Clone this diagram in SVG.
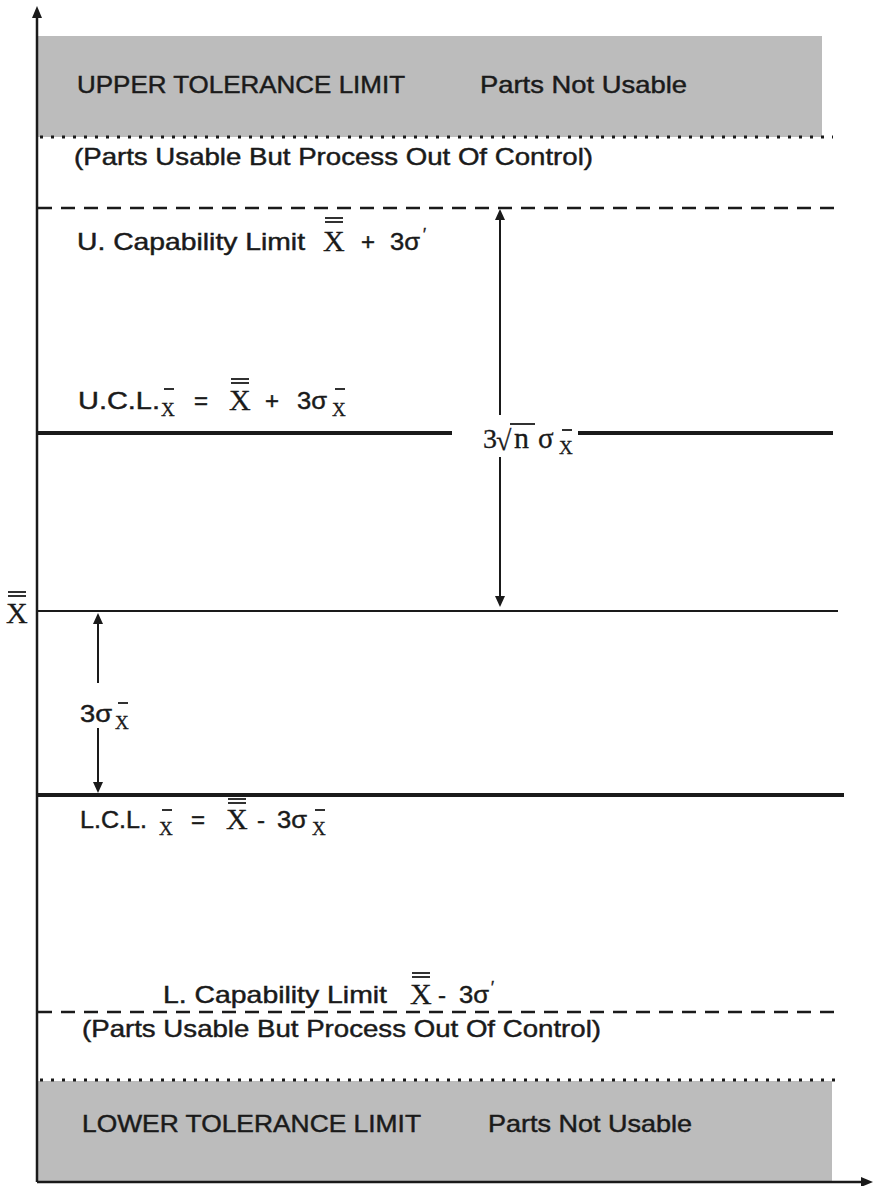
<svg xmlns="http://www.w3.org/2000/svg" width="875" height="1186" viewBox="0 0 875 1186">
<style>
.t{font-family:"Liberation Sans",Arial,sans-serif;font-size:24px;fill:#1a1a1a;stroke:#1a1a1a;stroke-width:0.45}
.s{font-family:"Liberation Serif","Times New Roman",serif;font-size:30px;fill:#1a1a1a;stroke:#1a1a1a;stroke-width:0.3}
.sub{font-family:"Liberation Serif","Times New Roman",serif;font-size:19px;fill:#1a1a1a;stroke:#1a1a1a;stroke-width:0.3}
.ln{stroke:#1a1a1a;fill:none}
.bar{stroke:#1a1a1a;stroke-width:1.8}
.band{fill:#bcbcbc}
.dot{stroke:#1a1a1a;stroke-width:3;stroke-dasharray:3 8;fill:none}
.dash{stroke:#1a1a1a;stroke-width:2.6;stroke-dasharray:14 9;fill:none}
.ah{fill:#1a1a1a}
</style>
<rect width="875" height="1186" fill="#ffffff"/>
<g id="bands">
<rect class="band" x="38" y="36" width="784" height="101"/>
<rect class="band" x="38" y="1081" width="794" height="100"/>
</g>
<g id="axes">
<line class="ln" x1="37" y1="1182" x2="37" y2="16" stroke-width="2.5"/>
<polygon class="ah" points="37,6 32,18 42,18"/>
<line class="ln" x1="37" y1="1182" x2="862" y2="1182" stroke-width="2.5"/>
<polygon class="ah" points="873,1182 861,1177 861,1187"/>
</g>
<g id="limit-lines">
<line class="dot" x1="40" y1="137" x2="833" y2="137"/>
<line class="dash" x1="38" y1="208" x2="835" y2="208"/>
<line class="ln" x1="37" y1="433" x2="452" y2="433" stroke-width="4"/>
<line class="ln" x1="578" y1="433" x2="833" y2="433" stroke-width="4"/>
<line class="ln" x1="37" y1="611" x2="838" y2="611" stroke-width="2"/>
<line class="ln" x1="37" y1="795" x2="844" y2="795" stroke-width="4"/>
<line class="dash" x1="38" y1="1012" x2="838" y2="1012"/>
<line class="dot" x1="40" y1="1080" x2="835" y2="1080"/>
</g>
<g id="connectors">
<line class="ln" x1="500" y1="218" x2="500" y2="415" stroke-width="2"/>
<line class="ln" x1="500" y1="457" x2="500" y2="598" stroke-width="2"/>
<polygon class="ah" points="500,209 495,220 505,220"/>
<polygon class="ah" points="500,607 495,596 505,596"/>
<line class="ln" x1="98" y1="622" x2="98" y2="683" stroke-width="2"/>
<line class="ln" x1="98" y1="728" x2="98" y2="784" stroke-width="2"/>
<polygon class="ah" points="98,613 93,624 103,624"/>
<polygon class="ah" points="98,793 93,782 103,782"/>
</g>
<g id="upper-tolerance">
<text class="t" x="77" y="93" textLength="328" lengthAdjust="spacingAndGlyphs">UPPER TOLERANCE LIMIT</text>
<text class="t" x="480" y="93" textLength="207" lengthAdjust="spacingAndGlyphs">Parts Not Usable</text>
</g>
<g id="upper-out-of-control">
<text class="t" x="74" y="165" textLength="519" lengthAdjust="spacingAndGlyphs">(Parts Usable But Process Out Of Control)</text>
</g>
<g id="upper-capability">
<text class="t" x="77" y="250" textLength="228" lengthAdjust="spacingAndGlyphs">U. Capability Limit</text>
<text class="s" x="323" y="251">X</text>
<line class="bar" x1="325" y1="218" x2="343" y2="218"/>
<line class="bar" x1="325" y1="222" x2="343" y2="222"/>
<text class="t" x="361" y="250">+</text>
<text class="t" x="390" y="250" textLength="30" lengthAdjust="spacingAndGlyphs">3σ</text>
<text class="t" x="423" y="240" style="font-size:16px">′</text>
</g>
<g id="ucl">
<text class="t" x="78" y="409" textLength="82" lengthAdjust="spacingAndGlyphs">U.C.L.</text>
<text class="sub" x="161" y="416">X</text>
<line class="bar" x1="164" y1="389" x2="174" y2="389"/>
<text class="t" x="194" y="409">=</text>
<text class="s" x="229" y="410">X</text>
<line class="bar" x1="231" y1="379" x2="249" y2="379"/>
<line class="bar" x1="231" y1="383" x2="249" y2="383"/>
<text class="t" x="265" y="409">+</text>
<text class="t" x="297" y="409" textLength="30" lengthAdjust="spacingAndGlyphs">3σ</text>
<text class="sub" x="332" y="416">X</text>
<line class="bar" x1="335" y1="389" x2="345" y2="389"/>
</g>
<g id="range-label">
<text class="s" x="483" y="448" style="font-size:28px">3</text>
<text class="s" x="496" y="450" style="font-size:28px">√</text>
<line class="bar" x1="510" y1="424" x2="535" y2="424"/>
<text class="s" x="514" y="448" style="font-size:30px">n</text>
<text class="s" x="538" y="448" style="font-size:29px">σ</text>
<text class="sub" x="559" y="454">X</text>
<line class="bar" x1="562" y1="430" x2="572" y2="430"/>
</g>
<g id="grand-mean">
<text class="s" x="6" y="623">X</text>
<line class="bar" x1="8" y1="592" x2="26" y2="592"/>
<line class="bar" x1="8" y1="596" x2="26" y2="596"/>
</g>
<g id="sigma-label">
<text class="t" x="80" y="722" textLength="32" lengthAdjust="spacingAndGlyphs">3σ</text>
<text class="sub" x="115" y="729">X</text>
<line class="bar" x1="118" y1="703" x2="128" y2="703"/>
</g>
<g id="lcl">
<text class="t" x="80" y="828" textLength="67" lengthAdjust="spacingAndGlyphs">L.C.L.</text>
<text class="sub" x="159" y="835">X</text>
<line class="bar" x1="162" y1="810" x2="172" y2="810"/>
<text class="t" x="191" y="828">=</text>
<text class="s" x="226" y="829">X</text>
<line class="bar" x1="228" y1="799" x2="246" y2="799"/>
<line class="bar" x1="228" y1="803" x2="246" y2="803"/>
<text class="t" x="257" y="828">-</text>
<text class="t" x="277" y="828" textLength="30" lengthAdjust="spacingAndGlyphs">3σ</text>
<text class="sub" x="312" y="835">X</text>
<line class="bar" x1="315" y1="810" x2="325" y2="810"/>
</g>
<g id="lower-capability">
<text class="t" x="163" y="1003" textLength="224" lengthAdjust="spacingAndGlyphs">L. Capability Limit</text>
<text class="s" x="410" y="1004">X</text>
<line class="bar" x1="412" y1="973" x2="430" y2="973"/>
<line class="bar" x1="412" y1="977" x2="430" y2="977"/>
<text class="t" x="438" y="1003">-</text>
<text class="t" x="459" y="1003" textLength="30" lengthAdjust="spacingAndGlyphs">3σ</text>
<text class="t" x="491" y="993" style="font-size:16px">′</text>
</g>
<g id="lower-out-of-control">
<text class="t" x="82" y="1037" textLength="519" lengthAdjust="spacingAndGlyphs">(Parts Usable But Process Out Of Control)</text>
</g>
<g id="lower-tolerance">
<text class="t" x="82" y="1132" textLength="339" lengthAdjust="spacingAndGlyphs">LOWER TOLERANCE LIMIT</text>
<text class="t" x="488" y="1132" textLength="204" lengthAdjust="spacingAndGlyphs">Parts Not Usable</text>
</g>
</svg>
